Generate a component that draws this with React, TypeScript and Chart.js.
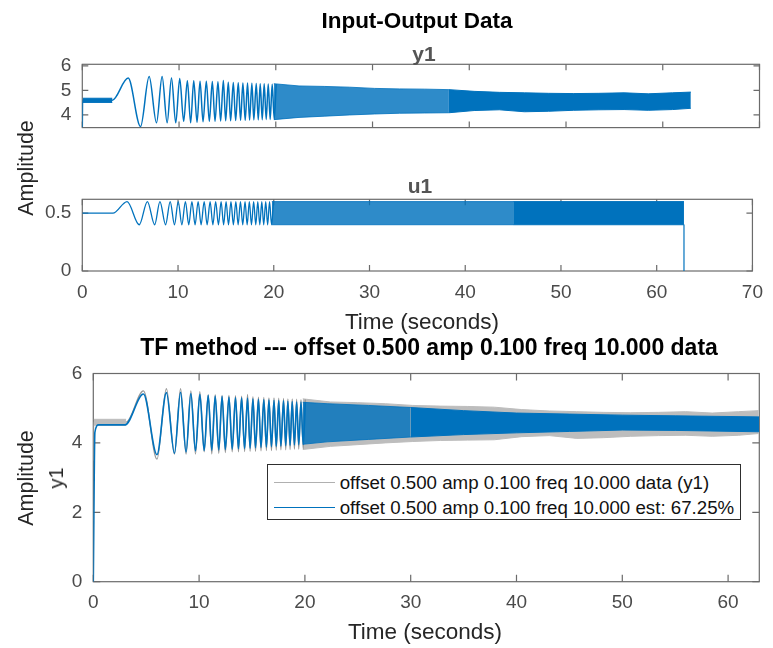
import React, { useEffect, useRef } from 'react';
import { Chart, registerables } from 'chart.js';

Chart.register(...registerables);

const W = 773;
const H = 648;
const BLUE = '#0072BD';
const BLUE_HATCH = 'rgba(0,114,189,0.82)';
const GRAY = '#979797';
const GRAY_BAND = '#bdbdbd';
const FONT = "'Liberation Sans', Arial, Helvetica, sans-serif";
const TICK_COLOR = '#4a4a4a';
const FRAME_COLOR = '#6b6b6b';

// ---------- tick values ----------
const topXTicks = [0, 10, 20, 30, 40, 50, 60, 70];
const y1YTicks = [4, 5, 6];
const u1YTicks = [0, 0.5];
const bottomXTicks = [0, 10, 20, 30, 40, 50, 60];
const bottomYTicks = [0, 2, 4, 6];

// ---------- measured output y1 ----------
const y1LeadT = [0, 0.03, 3.1];
const y1LeadV = [3.49, 4.6, 4.6];
const y1NoiseT = [0.05, 3.1];
const y1NoiseHi = [4.68, 4.68];
const y1NoiseLo = [4.51, 4.51];
// alternating peaks / troughs of the chirp response
const y1ExtT = [4.74, 6.02, 6.91, 7.67, 8.25, 8.77, 9.22, 9.66, 10.07, 10.48, 10.86, 11.2, 11.52, 11.86, 12.17, 12.48, 12.82, 13.13, 13.44, 13.72, 14.02, 14.3, 14.58, 14.82, 15.09, 15.33, 15.61, 15.85, 16.12, 16.36, 16.6, 16.84, 17.08, 17.29, 17.53, 17.73, 17.98, 18.19, 18.39, 18.6, 18.8, 19.01, 19.22, 19.42, 19.63, 19.84, 20.04];
const y1ExtV = [5.5, 3.53, 5.56, 3.68, 5.56, 3.68, 5.5, 3.68, 5.48, 3.74, 5.39, 3.68, 5.39, 3.7, 5.37, 3.72, 5.37, 3.74, 5.36, 3.74, 5.35, 3.75, 5.4, 3.76, 5.33, 3.76, 5.32, 3.77, 5.31, 3.78, 5.3, 3.78, 5.3, 3.79, 5.29, 3.8, 5.28, 3.8, 5.27, 3.81, 5.27, 3.82, 5.26, 3.82, 5.25, 3.83, 5.25];
// dense part: envelope of the band
const y1BandT = [19.8, 22.4, 25, 27.6, 30.2, 32.8, 35.4, 37.9, 40.5, 43.1, 45.7, 48.2, 50.8, 53.4, 56, 58.5, 61, 62.9];
const y1BandHi = [5.27, 5.18, 5.16, 5.13, 5.08, 5.06, 5.05, 5.03, 4.96, 4.92, 4.9, 4.88, 4.87, 4.88, 4.9, 4.86, 4.9, 4.93];
const y1BandLo = [3.81, 3.9, 3.95, 4.0, 4.04, 4.07, 4.08, 4.09, 4.18, 4.21, 4.13, 4.15, 4.19, 4.21, 4.22, 4.19, 4.22, 4.27];
const y1BandSplit = 37.9;

// ---------- estimated (TF model) output ----------
const estLeadT = [0, 0.15, 0.5, 3.0];
const estLeadV = [0, 4.3, 4.52, 4.52];
const estExtV = [5.41, 3.66, 5.45, 3.7, 5.46, 3.74, 5.42, 3.77, 5.4, 3.78, 5.37, 3.79, 5.35, 3.8, 5.34, 3.81, 5.32, 3.82, 5.31, 3.83, 5.3, 3.84, 5.29, 3.85, 5.27, 3.86, 5.26, 3.87, 5.25, 3.88, 5.24, 3.89, 5.23, 3.9, 5.22, 3.91, 5.21, 3.92, 5.2, 3.93, 5.19, 3.94, 5.18, 3.95, 5.18, 3.96, 5.17];
const estBandT = [19.8, 22.1, 26, 30, 35, 40, 45, 50, 55, 62.95];
const estBandHi = [5.17, 5.13, 5.08, 5.02, 4.93, 4.86, 4.83, 4.8, 4.78, 4.75];
const estBandLo = [3.96, 4.03, 4.1, 4.17, 4.24, 4.29, 4.33, 4.37, 4.36, 4.32];
const estBandSplit = 30;

// ---------- input u1 ----------
const u1LeadT = [0, 3.2];
const u1LeadV = [0.5, 0.5];
const u1ExtT = [4.68, 5.95, 6.8, 7.56, 8.11, 8.7, 9.18, 9.63, 10.02, 10.4, 10.77, 11.12, 11.45, 11.78, 12.1, 12.41, 12.73, 13.04, 13.35, 13.64, 13.93, 14.22, 14.5, 14.76, 15.02, 15.27, 15.53, 15.78, 16.04, 16.28, 16.52, 16.76, 17.0, 17.22, 17.45, 17.67, 17.9, 18.12, 18.33, 18.54, 18.75, 18.95, 19.16, 19.36, 19.56, 19.77, 19.97];
const u1ExtV = [0.6, 0.4, 0.6, 0.4, 0.6, 0.4, 0.6, 0.4, 0.6, 0.4, 0.6, 0.4, 0.6, 0.4, 0.6, 0.4, 0.6, 0.4, 0.6, 0.4, 0.6, 0.4, 0.6, 0.4, 0.6, 0.4, 0.6, 0.4, 0.6, 0.4, 0.6, 0.4, 0.6, 0.4, 0.6, 0.4, 0.6, 0.4, 0.6, 0.4, 0.6, 0.4, 0.6, 0.4, 0.6, 0.4, 0.6];
const u1BandT = [19.8, 45, 62.85];
const u1BandHi = [0.6, 0.6, 0.6];
const u1BandLo = [0.4, 0.4, 0.4];
const u1BandSplit = 45;
const u1EndT = [62.85, 62.85];
const u1EndV = [0.4, 0];

// ---------- legend ----------
const legendLabels = [
  'offset 0.500 amp 0.100 freq 10.000 data (y1)',
  'offset 0.500 amp 0.100 freq 10.000 est: 67.25%',
];

// ---------- helpers ----------
type P = { x: number; y: number };
const pts = (ts: number[], vs: number[]): P[] => ts.map((t, i) => ({ x: t, y: vs[i] }));
const seg = (ts: number[], vs: number[], from: number, to: number): P[] =>
  pts(ts, vs).filter((p) => p.x >= from && p.x <= to);

function lineDs(data: P[], color: string, width: number, order: number) {
  return {
    data,
    borderColor: color,
    backgroundColor: color,
    borderWidth: width,
    pointRadius: 0,
    fill: false,
    order,
    cubicInterpolationMode: 'monotone',
    borderJoinStyle: 'round',
  };
}
function bandDs(hi: P[], lo: P[], color: string, order: number) {
  return [
    { data: hi, fill: '+1', backgroundColor: color, borderColor: color, borderWidth: 1, pointRadius: 0, order },
    { data: lo, fill: false, backgroundColor: color, borderColor: color, borderWidth: 1, pointRadius: 0, order },
  ];
}

const framePlugin = {
  id: 'frame',
  beforeDatasetsDraw(chart: any, _a: any, opts: any) {
    const { ctx, chartArea: a, scales } = chart;
    ctx.save();
    ctx.strokeStyle = opts.color;
    ctx.lineWidth = opts.lineWidth;
    const L = opts.tickLen;
    ctx.beginPath();
    (opts.xTicks as number[]).forEach((v) => {
      const px = scales.x.getPixelForValue(v);
      ctx.moveTo(px, a.bottom);
      ctx.lineTo(px, a.bottom - L);
      ctx.moveTo(px, a.top);
      ctx.lineTo(px, a.top + L);
    });
    (opts.yTicks as number[]).forEach((v) => {
      const py = scales.y.getPixelForValue(v);
      ctx.moveTo(a.left, py);
      ctx.lineTo(a.left + L, py);
      ctx.moveTo(a.right, py);
      ctx.lineTo(a.right - L, py);
    });
    ctx.stroke();
    ctx.strokeRect(a.left, a.top, a.right - a.left, a.bottom - a.top);
    ctx.restore();
  },
};

interface Geo {
  canvasH: number;
  left: number;
  right: number;
  top: number;
  bottom: number;
  xMin: number;
  xMax: number;
  yMin: number;
  yMax: number;
  xTicks: number[];
  yTicks: number[];
  xLabels: boolean;
  tickLen: number;
}

function makeOptions(g: Geo) {
  const tickFont = { family: FONT, size: 19 };
  return {
    responsive: false,
    animation: false,
    events: [],
    layout: { padding: { left: 0, right: W - g.right, top: g.top, bottom: 0 } },
    plugins: {
      legend: { display: false },
      tooltip: { enabled: false },
      title: { display: false },
      frame: { color: FRAME_COLOR, lineWidth: 1.2, tickLen: g.tickLen, xTicks: g.xTicks, yTicks: g.yTicks },
    },
    scales: {
      x: {
        type: 'linear',
        min: g.xMin,
        max: g.xMax,
        grid: { display: false, drawTicks: false },
        border: { display: false },
        afterBuildTicks: (s: any) => {
          s.ticks = g.xTicks.map((v) => ({ value: v }));
        },
        afterFit: (s: any) => {
          s.height = g.canvasH - g.bottom;
        },
        ticks: {
          display: g.xLabels,
          padding: 10,
          color: TICK_COLOR,
          font: tickFont,
          maxRotation: 0,
          autoSkip: false,
          callback: (v: number) => String(v),
        },
      },
      y: {
        type: 'linear',
        min: g.yMin,
        max: g.yMax,
        grid: { display: false, drawTicks: false },
        border: { display: false },
        afterBuildTicks: (s: any) => {
          s.ticks = g.yTicks.map((v) => ({ value: v }));
        },
        afterFit: (s: any) => {
          s.width = g.left;
        },
        ticks: {
          padding: 11,
          color: TICK_COLOR,
          font: tickFont,
          autoSkip: false,
          callback: (v: number) => String(v),
        },
      },
    },
  };
}

function buildTop() {
  const datasets = [
    ...bandDs(pts(y1NoiseT, y1NoiseHi), pts(y1NoiseT, y1NoiseLo), BLUE, 1),
    lineDs(pts([...y1LeadT, ...y1ExtT], [...y1LeadV, ...y1ExtV]), BLUE, 1.5, 1),
    ...bandDs(
      seg(y1BandT, y1BandHi, 0, y1BandSplit),
      seg(y1BandT, y1BandLo, 0, y1BandSplit),
      BLUE_HATCH,
      1
    ),
    ...bandDs(
      seg(y1BandT, y1BandHi, y1BandSplit, 1e9),
      seg(y1BandT, y1BandLo, y1BandSplit, 1e9),
      BLUE,
      1
    ),
  ];
  return {
    type: 'line',
    data: { datasets },
    options: makeOptions({
      canvasH: 150, left: 82.3, right: 759.5, top: 64.3, bottom: 137.3,
      xMin: 0, xMax: 70, yMin: 3.486, yMax: 6.06,
      xTicks: topXTicks, yTicks: y1YTicks, xLabels: false, tickLen: 6,
    }),
    plugins: [framePlugin],
  };
}

function buildU1() {
  const datasets = [
    lineDs(pts([...u1LeadT, ...u1ExtT], [...u1LeadV, ...u1ExtV]), BLUE, 1.3, 1),
    ...bandDs(
      seg(u1BandT, u1BandHi, 0, u1BandSplit),
      seg(u1BandT, u1BandLo, 0, u1BandSplit),
      BLUE_HATCH,
      1
    ),
    ...bandDs(
      seg(u1BandT, u1BandHi, u1BandSplit, 1e9),
      seg(u1BandT, u1BandLo, u1BandSplit, 1e9),
      BLUE,
      1
    ),
    { ...lineDs(pts(u1EndT, u1EndV), BLUE, 1.2, 1), cubicInterpolationMode: 'default' },
  ];
  return {
    type: 'line',
    data: { datasets },
    options: makeOptions({
      canvasH: 190, left: 82.3, right: 759.5, top: 49.3, bottom: 121,
      xMin: 0, xMax: 70, yMin: 0, yMax: 0.62,
      xTicks: topXTicks, yTicks: u1YTicks, xLabels: true, tickLen: 6,
    }),
    plugins: [framePlugin],
  };
}

function buildBottom() {
  const datasets = [
    // estimated (blue, on top)
    lineDs(pts([...estLeadT, ...y1ExtT], [...estLeadV, ...estExtV]), BLUE, 1.6, 1),
    ...bandDs(
      seg(estBandT, estBandHi, 0, estBandSplit),
      seg(estBandT, estBandLo, 0, estBandSplit),
      BLUE_HATCH,
      1
    ),
    ...bandDs(
      seg(estBandT, estBandHi, estBandSplit, 1e9),
      seg(estBandT, estBandLo, estBandSplit, 1e9),
      BLUE,
      1
    ),
    // measured data (gray, behind)
    ...bandDs(pts(y1NoiseT, y1NoiseHi), pts(y1NoiseT, y1NoiseLo), GRAY_BAND, 2),
    lineDs(pts([...y1LeadT, ...y1ExtT], [...y1LeadV, ...y1ExtV]), GRAY, 1.3, 2),
    ...bandDs(pts(y1BandT, y1BandHi), pts(y1BandT, y1BandLo), GRAY_BAND, 2),
  ];
  return {
    type: 'line',
    data: { datasets },
    options: makeOptions({
      canvasH: 308, left: 93.3, right: 759.3, top: 33.5, bottom: 241.7,
      xMin: 0, xMax: 62.95, yMin: 0, yMax: 6,
      xTicks: bottomXTicks, yTicks: bottomYTicks, xLabels: true, tickLen: 7,
    }),
    plugins: [framePlugin],
  };
}

function ChartCanvas({ top, height, build }: { top: number; height: number; build: () => any }) {
  const ref = useRef<HTMLCanvasElement>(null);
  useEffect(() => {
    const chart = new Chart(ref.current as HTMLCanvasElement, build());
    return () => chart.destroy();
  }, []);
  return (
    <canvas
      ref={ref}
      width={W}
      height={height}
      style={{ position: 'absolute', left: 0, top, width: W, height, display: 'block' }}
    />
  );
}

function Txt({ x, y, size, bold, color, rotate, children }: any) {
  return (
    <div
      style={{
        position: 'absolute',
        left: x,
        top: y,
        transform: `translate(-50%, -50%)${rotate ? ' rotate(-90deg)' : ''}`,
        fontFamily: FONT,
        fontSize: size,
        fontWeight: bold ? 'bold' : 'normal',
        color,
        whiteSpace: 'nowrap',
        lineHeight: 1,
      }}
    >
      {children}
    </div>
  );
}

export default function App() {
  useEffect(() => {
    document.body.style.margin = '0';
  }, []);
  return (
    <div style={{ position: 'fixed', left: 0, top: 0, width: W, height: H, background: '#fff', overflow: 'hidden' }}>
      <ChartCanvas top={0} height={150} build={buildTop} />
      <ChartCanvas top={150} height={190} build={buildU1} />
      <ChartCanvas top={340} height={308} build={buildBottom} />

      <Txt x={417} y={21} size={22.5} bold color="#000">Input-Output Data</Txt>
      <Txt x={424} y={53} size={21} bold color="#555">y1</Txt>
      <Txt x={420} y={185} size={21} bold color="#555">u1</Txt>
      <Txt x={27} y={168} size={21.5} color="#262626" rotate>Amplitude</Txt>
      <Txt x={422} y={322} size={22.5} color="#262626">Time (seconds)</Txt>

      <Txt x={429} y={347} size={23} bold color="#000">TF method --- offset 0.500 amp 0.100 freq 10.000 data</Txt>
      <Txt x={27} y={478} size={21.5} color="#262626" rotate>Amplitude</Txt>
      <Txt x={56} y={478} size={20} color="#262626" rotate>y1</Txt>
      <Txt x={425} y={632} size={22.5} color="#262626">Time (seconds)</Txt>

      <div
        style={{
          position: 'absolute',
          left: 266.7,
          top: 464.3,
          width: 474.3,
          height: 56,
          border: '1px solid #2e2e2e',
          background: '#fff',
          boxSizing: 'border-box',
          fontFamily: FONT,
          fontSize: 18.7,
          color: '#111',
        }}
      >
        {legendLabels.map((lab, i) => (
          <React.Fragment key={lab}>
            <div
              style={{
                position: 'absolute',
                left: 6,
                top: 17 + i * 25,
                width: 61,
                height: 0,
                borderTop: `1px solid ${i === 0 ? '#b0b0b0' : BLUE}`,
              }}
            />
            <div
              style={{ position: 'absolute', left: 72, top: 7 + i * 25, lineHeight: '22px', whiteSpace: 'nowrap' }}
            >
              {lab}
            </div>
          </React.Fragment>
        ))}
      </div>
    </div>
  );
}
